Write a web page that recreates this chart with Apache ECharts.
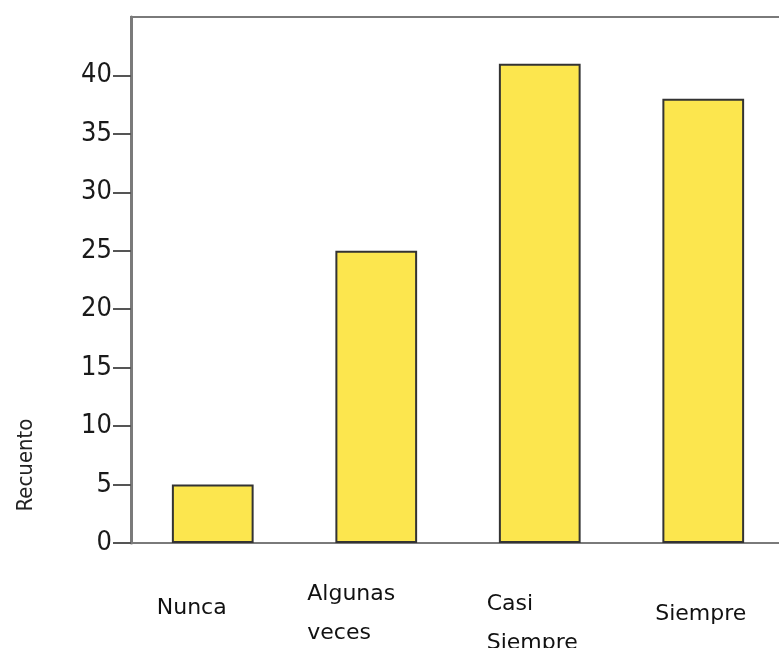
<!DOCTYPE html>
<html>
<head>
<meta charset="utf-8">
<script src="https://cdn.jsdelivr.net/npm/echarts@6/dist/echarts.min.js"></script>
<style>
  html, body { margin: 0; padding: 0; background: #fff; }
  #main { width: 779px; height: 648px; }
</style>
</head>
<body>
<div id="main"></div>
<script>
var categories = ['Nunca', 'Algunas veces', 'Casi Siempre', 'Siempre'];
var recuento = [5, 25, 41, 38];
var yTicks = [0, 5, 10, 15, 20, 25, 30, 35, 40];

// per-label tweaks (text lines, left offset box, top shift)
var labelLines = [['Nunca'], ['Algunas', 'veces'], ['Casi', 'Siempre'], ['Siempre']];
var labelBox = [112, 138, 106, 96];
var labelTop = [14, 0, 10, 20];

var rich = {};
labelLines.forEach(function (lines, i) {
  rich['c' + i] = {
    width: labelBox[i], align: 'left', lineHeight: 39,
    fontFamily: 'DejaVu Sans', fontSize: 22, color: '#111'
  };
  rich['s' + i] = { lineHeight: labelTop[i], fontSize: 1, height: labelTop[i] };
});

var chart = echarts.init(document.getElementById('main'));
chart.setOption({
  animation: false,
  grid: {
    left: 131, top: 17, width: 654, bottom: 105,
    outerBoundsMode: 'none', containLabel: false,
    show: true, borderColor: '#7a7a7a', borderWidth: 2
  },
  graphic: [{
    type: 'text', x: 26, y: 465, rotation: Math.PI / 2,
    style: {
      text: 'Recuento', fill: '#222', font: '22px "DejaVu Sans Condensed"',
      textAlign: 'center', textVerticalAlign: 'middle'
    }
  }],
  xAxis: {
    type: 'category',
    data: categories,
    axisLine: { lineStyle: { color: '#7a7a7a', width: 2 } },
    axisTick: { alignWithLabel: true, length: 12, lineStyle: { color: '#555', width: 2 } },
    axisLabel: {
      margin: 32, interval: 0,
      formatter: function (v, i) {
        var s = labelLines[i].map(function (t) { return '{c' + i + '|' + t + '}'; }).join('\n');
        if (labelTop[i] > 0) s = '{s' + i + '| }\n' + s;
        return s;
      },
      rich: rich
    }
  },
  yAxis: {
    type: 'value', min: 0, max: 45, interval: 5,
    splitLine: { show: false },
    axisLine: { show: true, lineStyle: { color: '#7a7a7a', width: 3 } },
    axisTick: { show: true, length: 18, customValues: yTicks, lineStyle: { color: '#555', width: 2 } },
    axisLabel: {
      margin: 19, customValues: yTicks,
      fontFamily: 'DejaVu Sans Condensed', fontSize: 27, color: '#1a1a1a'
    }
  },
  series: [{
    type: 'bar',
    data: recuento,
    barWidth: '50%',
    itemStyle: { color: '#fce64e', borderColor: '#333', borderWidth: 2 }
  }]
});
</script>
</body>
</html>
